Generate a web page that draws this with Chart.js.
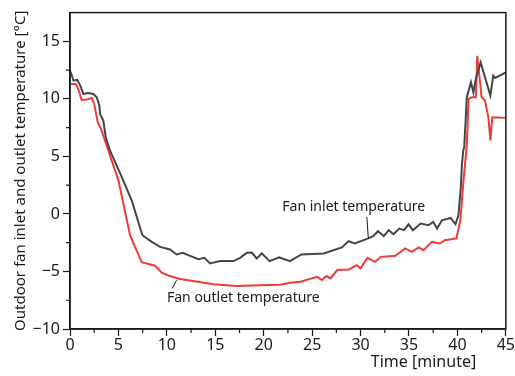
<!DOCTYPE html>
<html>
<head>
<meta charset="utf-8">
<script src="https://cdn.jsdelivr.net/npm/chart.js@4"></script>
<style>
  body { margin: 0; background: #fff; }
</style>
</head>
<body>
<canvas id="myChart" width="515" height="376"></canvas>
<script>
// values
const inletTime = [0, 0.17, 0.35, 0.75, 1.06, 1.38, 1.9, 2.4, 2.76, 3.03, 3.1, 3.44, 3.69, 4.13, 5.27, 6.37, 7.47, 8.44, 9.3, 10.33,
    11.0, 11.64, 12.2, 13.26, 13.88, 14.46, 15.5, 16.87, 17.56, 18.25, 18.77, 19.28, 19.8, 20.6, 21.6, 22.7, 23.9, 26.2, 28.07, 28.76,
    29.4, 30.8, 31.3, 31.8, 32.4, 32.9, 33.4, 34.0, 34.5, 34.95, 35.4, 36.2, 37.0, 37.5, 37.9, 38.4, 39.3, 39.8, 40.1, 40.35,
    40.46, 40.6, 40.7, 40.97, 41.4, 41.65, 41.9, 42.4, 43.4, 43.7, 43.9, 45];
const inletTemp = [12.45, 12.1, 11.6, 11.65, 11.15, 10.43, 10.52, 10.43, 10.14, 9.42, 8.7, 8.12, 6.67, 5.52, 3.35, 1.19, -1.85, -2.43, -2.86, -3.09,
    -3.52, -3.38, -3.58, -3.93, -3.81, -4.3, -4.1, -4.1, -3.81, -3.38, -3.35, -3.87, -3.43, -4.1, -3.78, -4.1, -3.52, -3.43, -2.91, -2.37,
    -2.57, -2.13, -1.93, -1.5, -1.93, -1.41, -1.76, -1.27, -1.41, -0.9, -1.41, -0.83, -0.98, -0.69, -1.27, -0.55, -0.35, -0.89, -0.11, 2.34,
    4.22, 5.52, 5.8, 10.14, 11.44, 10.57, 11.73, 13.17, 10.29, 12.02, 11.82, 12.3];

const outletTime = [0, 0.6, 0.85, 1.2, 1.7, 2.24, 2.5, 2.86, 3.2, 5.0, 6.2, 7.4, 8.78, 9.47, 10.3, 11.36, 12.7, 14.8, 17.2, 19.6,
    21.7, 22.7, 23.8, 25.5, 26.0, 26.5, 26.9, 27.6, 28.8, 29.6, 30.0, 30.7, 31.5, 32.1, 33.6, 34.6, 35.3, 36.0, 36.5, 37.35,
    38.2, 38.7, 39.9, 40.3, 40.6, 40.97, 41.15, 41.5, 41.9, 42.05, 42.5, 42.85, 43.2, 43.4, 43.6, 45];
const outletTemp = [11.3, 11.3, 10.87, 9.91, 9.94, 10.08, 9.56, 7.97, 7.4, 2.92, -1.85, -4.2, -4.5, -5.1, -5.4, -5.66, -5.83, -6.12, -6.27, -6.2,
    -6.15, -5.98, -5.89, -5.46, -5.75, -5.4, -5.6, -4.88, -4.82, -4.45, -4.73, -3.81, -4.16, -3.73, -3.64, -3.0, -3.29, -2.91, -3.15, -2.43,
    -2.57, -2.28, -2.13, -0.55, 2.63, 6.0, 10.0, 10.14, 10.14, 13.75, 10.14, 9.85, 8.4, 6.39, 8.4, 8.35];

const xTicks = [0, 5, 10, 15, 20, 25, 30, 35, 40, 45];
const yTicks = [-10, -5, 0, 5, 10, 15];

// label text, where it sits and where its leader line goes (data units)
const labels = [
    { text: 'Fan inlet temperature', x: 29.3, y: 0.6, from: [30.65, -0.26], to: [30.8, -2.13] },
    { text: 'Fan outlet temperature', x: 17.9, y: -7.33, from: [10.57, -6.46], to: [11.0, -5.75] }
];
const xTitle = 'Time [minute]';
const xTitleAt = 36.5; // centre of the x title, in minutes

function toPoints(xs, ys) {
    let pts = [];
    for (let i = 0; i < xs.length; i++) {
        pts.push({ x: xs[i], y: ys[i] });
    }
    return pts;
}

function minus(v) {
    return v < 0 ? '\u2212' + Math.abs(v) : '' + v;
}

const boxAndExtras = {
    id: 'boxAndExtras',
    afterDraw(chart) {
        const ctx = chart.ctx;
        const a = chart.chartArea;
        const xs = chart.scales.x;
        const ys = chart.scales.y;
        ctx.save();
        ctx.strokeStyle = '#1a1a1a';
        ctx.lineWidth = 1.5;
        ctx.strokeRect(a.left, a.top, a.right - a.left, a.bottom - a.top);

        // minor ticks halfway between the labelled ones
        ctx.lineWidth = 1.2;
        ctx.beginPath();
        for (let v = 2.5; v < 45; v += 5) {
            let px = xs.getPixelForValue(v);
            ctx.moveTo(px, a.bottom);
            ctx.lineTo(px, a.bottom + 4);
        }
        for (let v = -7.5; v < 17.5; v += 5) {
            let py = ys.getPixelForValue(v);
            ctx.moveTo(a.left, py);
            ctx.lineTo(a.left - 4, py);
        }
        ctx.stroke();

        // curve labels
        ctx.font = '14px "Noto Sans"';
        ctx.fillStyle = '#1a1a1a';
        ctx.textAlign = 'center';
        ctx.textBaseline = 'middle';
        ctx.lineWidth = 1;
        for (let l of labels) {
            ctx.fillText(l.text, xs.getPixelForValue(l.x), ys.getPixelForValue(l.y));
            ctx.beginPath();
            ctx.moveTo(xs.getPixelForValue(l.from[0]), ys.getPixelForValue(l.from[1]));
            ctx.lineTo(xs.getPixelForValue(l.to[0]), ys.getPixelForValue(l.to[1]));
            ctx.stroke();
        }

        // x axis title, right of centre under the ticks
        ctx.font = '16px "Noto Sans"';
        ctx.fillText(xTitle, xs.getPixelForValue(xTitleAt), a.bottom + 33);
        ctx.restore();
    }
};

const ctx = document.getElementById('myChart');

new Chart(ctx, {
    type: 'line',
    data: {
        datasets: [
            {
                label: 'Fan inlet temperature',
                data: toPoints(inletTime, inletTemp),
                borderColor: '#454545',
                borderWidth: 2,
                pointRadius: 0,
                tension: 0
            },
            {
                label: 'Fan outlet temperature',
                data: toPoints(outletTime, outletTemp),
                borderColor: '#f03a3a',
                borderWidth: 2,
                pointRadius: 0,
                tension: 0
            }
        ]
    },
    options: {
        responsive: false,
        animation: false,
        layout: { padding: { top: 12, right: 9, left: 0, bottom: 0 } },
        plugins: {
            legend: { display: false },
            tooltip: { enabled: false }
        },
        scales: {
            x: {
                type: 'linear',
                min: 0,
                max: 45,
                afterFit: s => { s.height = 47; },
                afterBuildTicks: s => { s.ticks = xTicks.map(v => ({ value: v })); },
                border: { color: '#1a1a1a', width: 1.5 },
                grid: { drawOnChartArea: false, tickLength: 7, tickColor: '#1a1a1a', tickWidth: 1.2 },
                ticks: { color: '#1a1a1a', font: { family: 'Noto Sans', size: 16 }, padding: 0, maxRotation: 0 }
            },
            y: {
                min: -10,
                max: 17.5,
                afterFit: s => { s.width = 70; },
                afterBuildTicks: s => { s.ticks = yTicks.map(v => ({ value: v })); },
                border: { color: '#1a1a1a', width: 1.5 },
                grid: { drawOnChartArea: false, tickLength: 7, tickColor: '#1a1a1a', tickWidth: 1.2 },
                ticks: {
                    color: '#1a1a1a',
                    font: { family: 'Noto Sans', size: 16 },
                    padding: 3,
                    callback: v => minus(v)
                },
                title: {
                    display: true,
                    text: 'Outdoor fan inlet and outlet temperature [\u00b0C]',
                    color: '#1a1a1a',
                    font: { family: 'Noto Sans', size: 15 },
                    padding: { top: 12, bottom: 0 }
                }
            }
        }
    },
    plugins: [boxAndExtras]
});
</script>
</body>
</html>
